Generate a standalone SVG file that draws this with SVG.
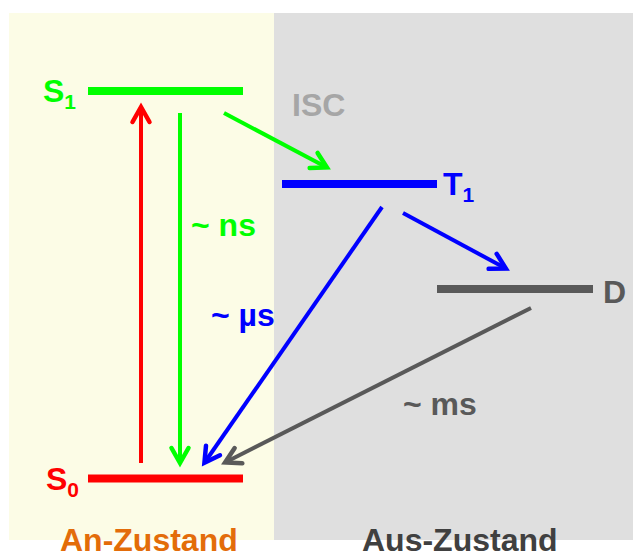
<svg xmlns="http://www.w3.org/2000/svg" width="633" height="556" viewBox="0 0 633 556">
<style>
text{font-family:"Liberation Sans",Arial,sans-serif;font-weight:bold;font-size:32px}
.sub{font-size:21px}
.bar{stroke-width:8;fill:none}
.arr{stroke-width:4;fill:none}
.head{fill:none;stroke-width:4.5;stroke-linejoin:miter;stroke-linecap:round}
</style>
<defs>
<marker id="mg" markerUnits="userSpaceOnUse" markerWidth="40" markerHeight="40" viewBox="-20 -20 40 40" refX="-1" refY="0" orient="auto"><path class="head" d="M-15,-8.5 L0,0 L-15,8.5" stroke="#00FF00"/></marker>
<marker id="mr" markerUnits="userSpaceOnUse" markerWidth="40" markerHeight="40" viewBox="-20 -20 40 40" refX="-1" refY="0" orient="auto"><path class="head" d="M-15,-8.5 L0,0 L-15,8.5" stroke="#FF0000"/></marker>
<marker id="mb" markerUnits="userSpaceOnUse" markerWidth="40" markerHeight="40" viewBox="-20 -20 40 40" refX="-1" refY="0" orient="auto"><path class="head" d="M-15,-8.5 L0,0 L-15,8.5" stroke="#0000FF"/></marker>
<marker id="mk" markerUnits="userSpaceOnUse" markerWidth="40" markerHeight="40" viewBox="-20 -20 40 40" refX="-1" refY="0" orient="auto"><path class="head" d="M-15,-8.5 L0,0 L-15,8.5" stroke="#595959"/></marker>
</defs>
<g id="background">
<rect x="9" y="13" width="265" height="527" fill="#FCFCE6"/>
<rect x="274" y="13" width="359" height="527" fill="#DFDFDF"/>
</g>
<g id="S1">
<line class="bar" x1="88" y1="91" x2="243" y2="91" stroke="#00FF00"/>
<text x="43" y="102" fill="#00FF00">S<tspan class="sub" dy="7">1</tspan></text>
</g>
<g id="T1">
<line class="bar" x1="282" y1="184" x2="437" y2="184" stroke="#0000FF"/>
<text x="443" y="195" fill="#0000FF">T<tspan class="sub" dy="7">1</tspan></text>
</g>
<g id="D">
<line class="bar" x1="437" y1="289" x2="593" y2="289" stroke="#595959"/>
<text x="603" y="303" fill="#595959">D</text>
</g>
<g id="S0">
<line class="bar" x1="88" y1="478.5" x2="243" y2="478.5" stroke="#FF0000" stroke-width="9"/>
<text x="46" y="490" fill="#FF0000">S<tspan class="sub" dy="7">0</tspan></text>
</g>
<g id="connectors">
<line class="arr" x1="141" y1="463" x2="141" y2="108" stroke="#FF0000" marker-end="url(#mr)"/>
<line class="arr" x1="180" y1="113" x2="180" y2="462" stroke="#00FF00" marker-end="url(#mg)"/>
<line class="arr" x1="224" y1="113" x2="326" y2="167" stroke="#00FF00" marker-end="url(#mg)"/>
<line class="arr" x1="382" y1="207" x2="205" y2="462" stroke="#0000FF" marker-end="url(#mb)"/>
<line class="arr" x1="403" y1="213" x2="505" y2="268" stroke="#0000FF" marker-end="url(#mb)"/>
<line class="arr" x1="531" y1="308" x2="226" y2="462" stroke="#595959" marker-end="url(#mk)"/>
</g>
<g id="labels">
<text x="292" y="116" fill="#A6A6A6">ISC</text>
<text x="191" y="236" fill="#00FF00">~ ns</text>
<text x="211" y="326" fill="#0000FF">~ µs</text>
<text x="403" y="415" fill="#595959">~ ms</text>
<text x="60" y="551" fill="#E36C0A">An-Zustand</text>
<text x="362" y="551" fill="#404040">Aus-Zustand</text>
</g>
</svg>
